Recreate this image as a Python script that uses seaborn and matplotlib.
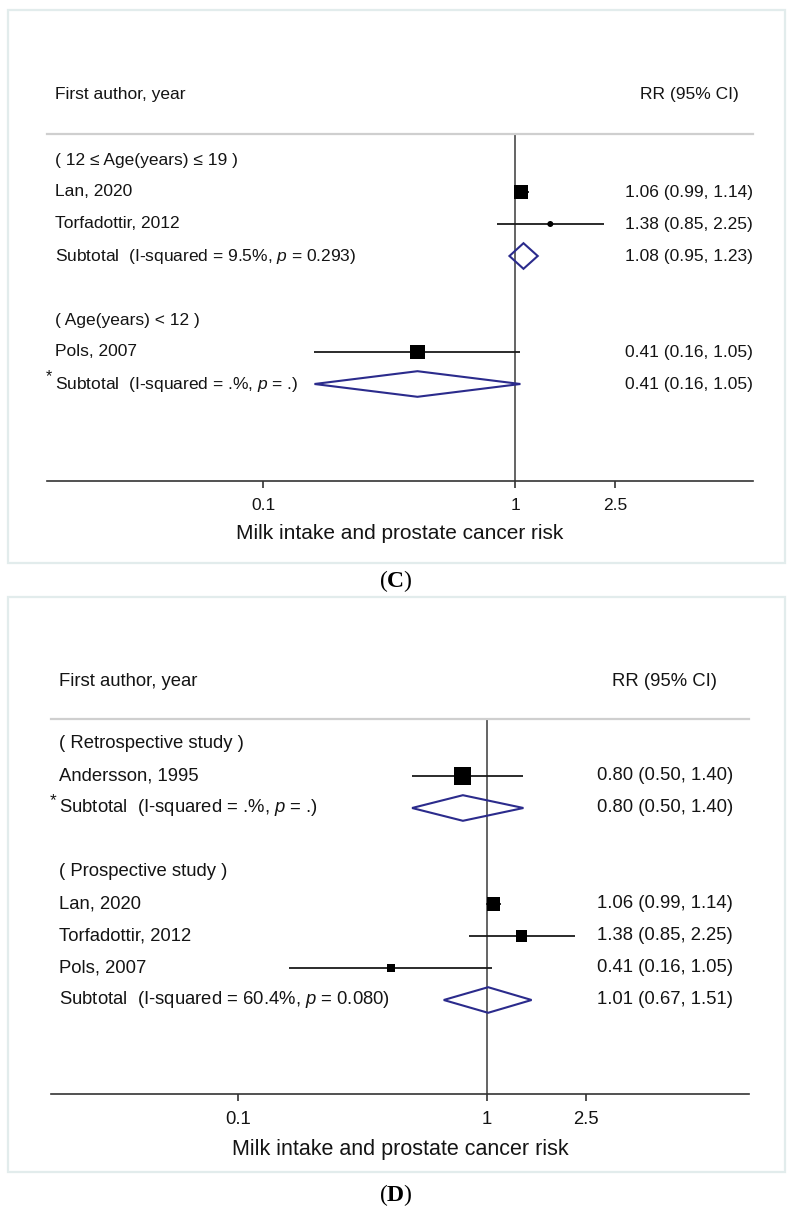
import numpy as np
import pandas as pd
import seaborn as sns
import matplotlib.pyplot as plt
from matplotlib.patches import Rectangle
from matplotlib.transforms import blended_transform_factory

# Panel C data: age at milk intake
c_group = ["( 12 \u2264 Age(years) \u2264 19 )", "( Age(years) < 12 )"]
c_study = ["Lan, 2020", "Torfadottir, 2012", "Pols, 2007"]
c_group_of = [0, 0, 1]
c_rr = [1.06, 1.38, 0.41]
c_lo = [0.99, 0.85, 0.16]
c_hi = [1.14, 2.25, 1.05]
c_wt = [45.6, 2.1, 52.3]
c_sub_label = ["Subtotal  (I-squared = 9.5%, $p$ = 0.293)", "Subtotal  (I-squared = .%, $p$ = .)"]
c_sub_star = [False, True]
c_sub_rr = [1.08, 0.41]
c_sub_lo = [0.95, 0.16]
c_sub_hi = [1.23, 1.05]

# Panel D data: study design
d_group = ["( Retrospective study )", "( Prospective study )"]
d_study = ["Andersson, 1995", "Lan, 2020", "Torfadottir, 2012", "Pols, 2007"]
d_group_of = [0, 1, 1, 1]
d_rr = [0.80, 1.06, 1.38, 0.41]
d_lo = [0.50, 0.99, 0.85, 0.16]
d_hi = [1.40, 1.14, 2.25, 1.05]
d_wt = [44.9, 26.3, 18.8, 10.0]
d_sub_label = ["Subtotal  (I-squared = .%, $p$ = .)", "Subtotal  (I-squared = 60.4%, $p$ = 0.080)"]
d_sub_star = [True, False]
d_sub_rr = [0.80, 1.01]
d_sub_lo = [0.50, 0.67]
d_sub_hi = [1.40, 1.51]

xticks = [0.1, 1, 2.5]
xtick_labels = ["0.1", "1", "2.5"]
xlabel = "Milk intake and prostate cancer risk"

sns.set_theme(style="white")
plt.rcParams["font.family"] = ["Liberation Sans", "DejaVu Sans"]
plt.rcParams["mathtext.fontset"] = "custom"
plt.rcParams["mathtext.rm"] = "Liberation Sans"
plt.rcParams["mathtext.it"] = "Liberation Sans:italic"
plt.rcParams["mathtext.bf"] = "Liberation Serif:bold"

W, H = 791, 1221
fig = plt.figure(figsize=(W / 100, H / 100), dpi=100)
fig.patch.set_facecolor("white")

TXT = "#141414"
NAVY = "#2b2b8c"


def fx(px):
    return px / W


def fy(py):
    return 1 - py / H


def build(groups, group_of):
    # row layout: group header, its studies, subtotal, blank line
    rows = []
    r = 0
    for g in range(len(groups)):
        rows.append((r, "group", g)); r += 1
        for i, gi in enumerate(group_of):
            if gi == g:
                rows.append((r, "study", i)); r += 1
        rows.append((r, "sub", g)); r += 2
    return rows


def draw_panel(lay, data, label):
    groups, study, group_of, rr, lo, hi, wt, sub_label, sub_star, sub_rr, sub_lo, sub_hi = data
    sp = 32.0
    ax = fig.add_axes([fx(lay["ax_l"]), fy(lay["ax_b"]),
                       fx(lay["ax_r"] - lay["ax_l"]), (lay["ax_b"] - lay["ax_t"]) / H])
    ax.set_xscale("log")
    ax.set_xlim(lay["xlim"])
    ax.set_ylim((lay["ax_b"] - lay["row0"]) / sp, (lay["ax_t"] - lay["row0"]) / sp)
    ax.set_facecolor("none")
    tr = blended_transform_factory(fig.transFigure, ax.transData)
    fs = lay["fs"]

    rows = build(groups, group_of)
    st_rows = {i: row for row, kind, i in rows if kind == "study"}
    df = pd.DataFrame({"rr": rr, "lo": lo, "hi": hi, "wt": wt,
                       "row": [st_rows[i] for i in range(len(study))]})

    ax.axvline(1, color="#4a4a4a", lw=1.2, zorder=1)
    ax.hlines(df["row"], df["lo"], df["hi"], color="#1a1a1a", lw=1.3, zorder=2)
    side_pt = lay["box_k"] * np.sqrt(df["wt"]) * 0.72
    sns.scatterplot(data=df, x="rr", y="row", marker="s", s=side_pt ** 2,
                    color="black", edgecolor="none", linewidth=0, ax=ax, zorder=3, legend=False)
    sns.scatterplot(data=df, x="rr", y="row", marker="o", s=(6 * 0.72) ** 2,
                    color="black", edgecolor="none", linewidth=0, ax=ax, zorder=4, legend=False)

    for row, kind, i in rows:
        if kind == "group":
            ax.text(fx(lay["tx"]), row, groups[i], transform=tr, fontsize=fs, color=TXT,
                    va="center", ha="left", clip_on=False)
        elif kind == "study":
            ax.text(fx(lay["tx"]), row, study[i], transform=tr, fontsize=fs, color=TXT,
                    va="center", ha="left", clip_on=False)
            ax.text(fx(lay["vx"]), row, f"{rr[i]:.2f} ({lo[i]:.2f}, {hi[i]:.2f})", transform=tr,
                    fontsize=fs, color=TXT, va="center", ha="left", clip_on=False)
        else:
            hh = 0.4
            ax.fill([sub_lo[i], sub_rr[i], sub_hi[i], sub_rr[i]],
                    [row, row - hh, row, row + hh], facecolor="none",
                    edgecolor=NAVY, lw=1.5, zorder=3)
            ax.text(fx(lay["tx"]), row, sub_label[i], transform=tr, fontsize=fs, color=TXT,
                    va="center", ha="left", clip_on=False)
            if sub_star[i]:
                ax.text(fx(lay["sx"]), row - 0.22, "*", transform=tr, fontsize=fs - 1, color=TXT,
                        va="center", ha="left", clip_on=False)
            ax.text(fx(lay["vx"]), row, f"{sub_rr[i]:.2f} ({sub_lo[i]:.2f}, {sub_hi[i]:.2f})",
                    transform=tr, fontsize=fs, color=TXT, va="center", ha="left", clip_on=False)

    hy = (lay["hdr"] - lay["row0"]) / sp
    ax.text(fx(lay["tx"]), hy, "First author, year", transform=tr, fontsize=fs, color=TXT,
            va="center", ha="left", clip_on=False)
    ax.text(fx(lay["rx"]), hy, "RR (95% CI)", transform=tr, fontsize=fs, color=TXT,
            va="center", ha="left", clip_on=False)

    for s in ["left", "right"]:
        ax.spines[s].set_visible(False)
    ax.spines["top"].set_color("#cfcfcf")
    ax.spines["top"].set_linewidth(1.6)
    ax.spines["bottom"].set_color("#333333")
    ax.spines["bottom"].set_linewidth(1.2)
    ax.set_yticks([])
    ax.set_xticks(xticks)
    ax.set_xticklabels(xtick_labels)
    ax.minorticks_off()
    ax.tick_params(axis="x", which="major", bottom=True, direction="out", length=5,
                   width=1.2, color="#333333", pad=7, labelsize=fs, labelcolor=TXT)
    ax.set_xlabel(xlabel, fontsize=lay["xfs"], color=TXT, labelpad=8)
    ax.set_ylabel("")

    # panel frame and caption
    fig.add_artist(Rectangle((fx(8), fy(lay["fb"])), fx(777), (lay["fb"] - lay["ft"]) / H,
                             transform=fig.transFigure, facecolor="none",
                             edgecolor="#e2ecec", lw=1.6))
    fig.text(0.5, fy(lay["cap"]), r"($\mathbf{" + label + "}$)", ha="center", va="center",
             fontsize=17, family="Liberation Serif", color="black")


lay_c = dict(ax_l=47, ax_r=753, ax_t=134, ax_b=481, row0=160, hdr=95,
             xlim=(10 ** -1.857, 10 ** 0.944), tx=55, sx=46, vx=625, rx=640,
             fs=12.5, xfs=15, box_k=2.07, ft=10, fb=563, cap=581)
lay_d = dict(ax_l=51, ax_r=749, ax_t=719, ax_b=1094, row0=744, hdr=681,
             xlim=(10 ** -1.751, 10 ** 1.052), tx=59, sx=50, vx=597, rx=612,
             fs=13.3, xfs=15.5, box_k=2.54, ft=597, fb=1172, cap=1195)

draw_panel(lay_c, (c_group, c_study, c_group_of, c_rr, c_lo, c_hi, c_wt,
                   c_sub_label, c_sub_star, c_sub_rr, c_sub_lo, c_sub_hi), "C")
draw_panel(lay_d, (d_group, d_study, d_group_of, d_rr, d_lo, d_hi, d_wt,
                   d_sub_label, d_sub_star, d_sub_rr, d_sub_lo, d_sub_hi), "D")

fig.savefig("out.png", dpi=100, facecolor="white")
